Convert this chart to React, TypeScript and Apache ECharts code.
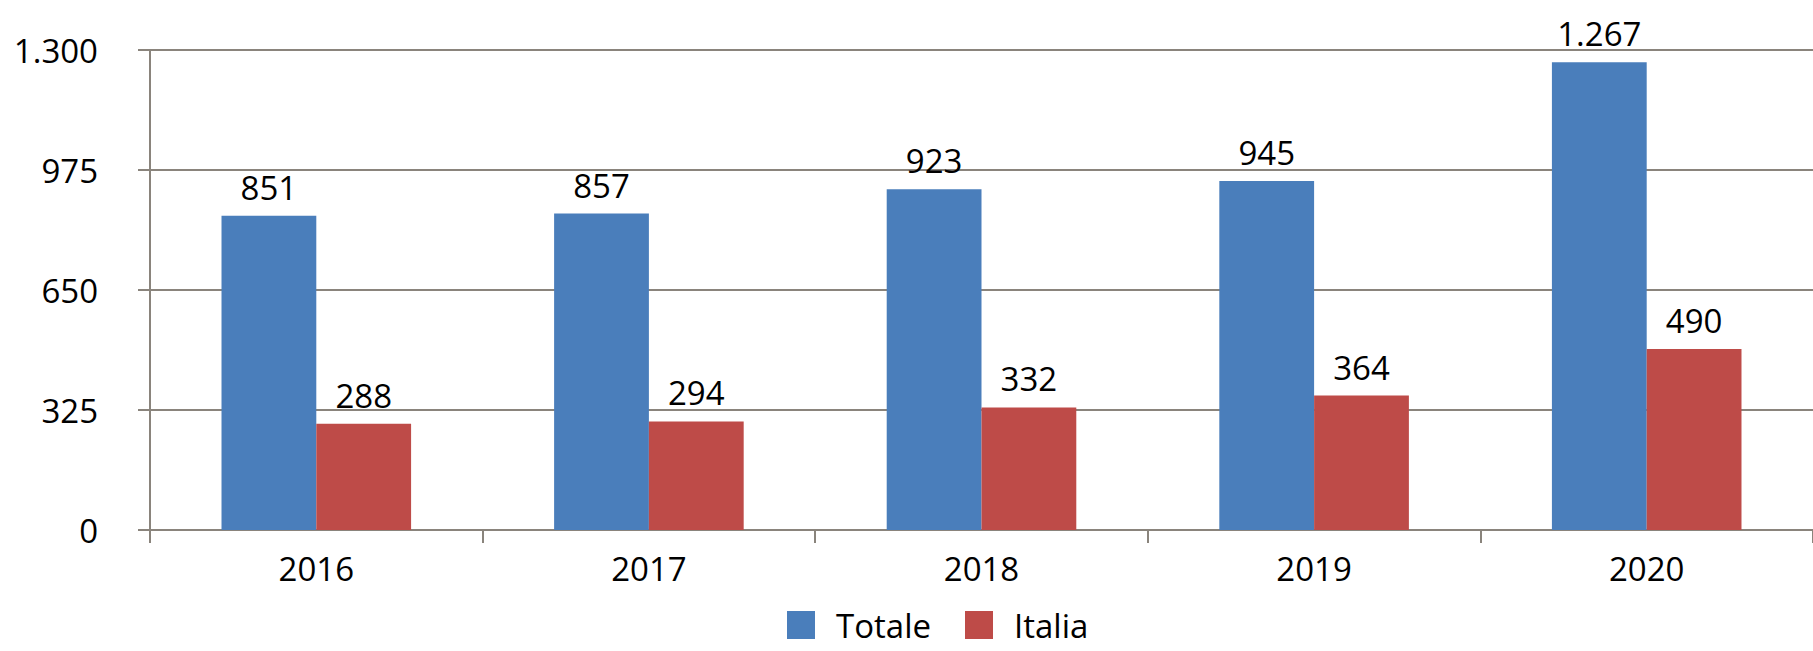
import React, { useEffect, useRef } from "react";
import * as echarts from "echarts";

const categories = ["2016", "2017", "2018", "2019", "2020"];
const totale = [851, 857, 923, 945, 1267];
const italia = [288, 294, 332, 364, 490];
const seriesNames = ["Totale", "Italia"];

const fmt = (v: number) => {
  const s = Math.round(v).toString();
  return s.replace(/\B(?=(\d{3})+(?!\d))/g, ".");
};

const FONT = "'Open Sans', sans-serif";
const GRID = "#8a847c";
const FS = 33;

export default function App() {
  const ref = useRef<HTMLDivElement>(null);
  useEffect(() => {
    if (!ref.current) return;
    const chart = echarts.init(ref.current, null, { renderer: "svg" });
    const label = {
      show: true,
      position: "top",
      distance: 12,
      color: "#000",
      fontSize: FS,
      fontFamily: FONT,
      formatter: (p: any) => fmt(p.value),
    };
    chart.setOption({
      animation: false,
      backgroundColor: "#ffffff",
      legend: {
        data: seriesNames,
        left: 782,
        top: 602,
        icon: "rect",
        itemWidth: 28,
        itemHeight: 28,
        itemGap: 34,
        textStyle: {
          fontSize: FS,
          fontFamily: FONT,
          color: "#000",
          lineHeight: 36,
          padding: [0, 0, 0, 16],
        },
      },
      grid: { left: 150, top: 50, right: -12, height: 480 },
      xAxis: {
        type: "category",
        data: categories,
        boundaryGap: true,
        axisLine: { show: true, lineStyle: { color: GRID, width: 2 } },
        axisTick: { show: true, length: 13, lineStyle: { color: GRID, width: 2 } },
        axisLabel: { color: "#000", fontSize: FS, fontFamily: FONT, margin: 22 },
        splitLine: { show: false },
      },
      yAxis: {
        type: "value",
        min: 0,
        max: 1300,
        interval: 325,
        axisLine: { show: true, lineStyle: { color: GRID, width: 2 } },
        axisTick: { show: true, length: 12, lineStyle: { color: GRID, width: 2 } },
        axisLabel: {
          color: "#000",
          fontSize: FS,
          fontFamily: FONT,
          margin: 52,
          formatter: (v: number) => fmt(v),
        },
        splitLine: { show: true, lineStyle: { color: GRID, width: 2 } },
      },
      series: [
        {
          name: seriesNames[0],
          type: "bar",
          data: totale,
          barGap: "0%",
          barCategoryGap: "43%",
          itemStyle: { color: "#4a7ebb" },
          label,
        },
        {
          name: seriesNames[1],
          type: "bar",
          data: italia,
          itemStyle: { color: "#be4b48" },
          label,
        },
      ],
    });
    return () => chart.dispose();
  }, []);
  return (
    <div
      ref={ref}
      style={{ position: "absolute", left: 0, top: 0, width: 1813, height: 651 }}
    />
  );
}
